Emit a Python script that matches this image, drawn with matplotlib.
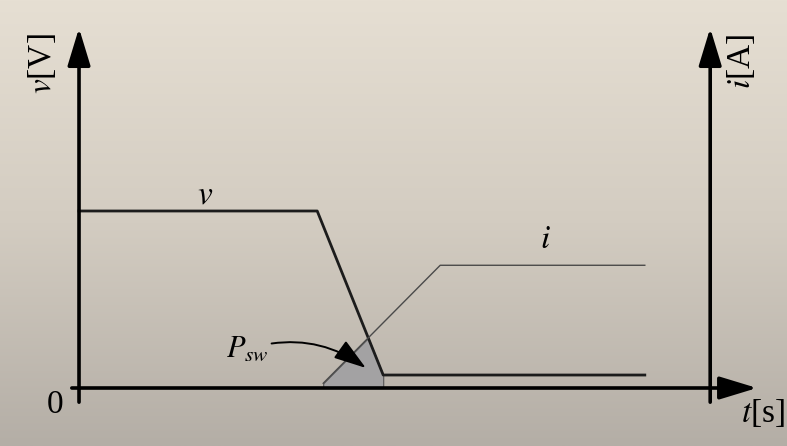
import numpy as np
import matplotlib.pyplot as plt
from matplotlib.colors import LinearSegmentedColormap

plt.rcParams['mathtext.fontset'] = 'stix'
plt.rcParams['font.family'] = ['Liberation Serif', 'DejaVu Serif']

# voltage waveform (turn-on transition)
v_t = [0.0, 3.97, 5.07, 9.43]
v_val = [3.0, 3.0, 0.22, 0.22]

# current waveform
i_t = [4.07, 6.02, 9.43]
i_val = [0.08, 2.08, 2.08]

T_END = 11.3      # time axis arrow tip
V_TOP = 6.10      # voltage axis arrow tip
I_AXIS_T = 10.52  # position of the current axis

fig = plt.figure(figsize=(7.87, 4.46), dpi=100)
ax = fig.add_axes([0, 0, 1, 1])
xlim = (-1.317, 11.8)
ylim = (-0.983, 6.576)
ax.set_xlim(*xlim)
ax.set_ylim(*ylim)
ax.axis('off')

# beige background gradient
cmap = LinearSegmentedColormap.from_list('bg', ['#e6dfd3', '#d3ccc1', '#b4aea6'])
grad = np.linspace(0, 1, 256).reshape(-1, 1)
ax.imshow(grad, cmap=cmap, extent=[xlim[0], xlim[1], ylim[0], ylim[1]],
          aspect='auto', origin='upper', zorder=0)

arrow = dict(arrowstyle='-|>,head_length=2.3,head_width=0.7', color='black',
             lw=2.6, mutation_scale=10, shrinkA=0, shrinkB=0)

# axes with arrows
ax.annotate('', xy=(T_END, 0), xytext=(-0.12, 0), arrowprops=arrow, zorder=5)
ax.annotate('', xy=(0, V_TOP), xytext=(0, -0.24), arrowprops=arrow, zorder=5)
ax.annotate('', xy=(I_AXIS_T, V_TOP), xytext=(I_AXIS_T, -0.24), arrowprops=arrow, zorder=5)

# switching loss area
tt = np.linspace(i_t[0], v_t[2], 200)
overlap = np.minimum(np.interp(tt, v_t, v_val), np.interp(tt, i_t, i_val))
ax.fill_between(tt, 0, overlap, facecolor='#a3a2a3', edgecolor='#555555',
                lw=0.8, zorder=2)

ax.plot(v_t, v_val, color='#1c1c1c', lw=2.0, zorder=3)
ax.plot(i_t, i_val, color='#4a4a4a', lw=1.0, zorder=3)

fs = 24
ax.text(2.1, 3.27, '$v$', fontsize=fs, ha='center', va='center')
ax.text(7.78, 2.51, '$i$', fontsize=fs, ha='center', va='center')
ax.text(-0.4, -0.29, '0', fontsize=fs, ha='center', va='center')
ax.text(11.4, -0.42, '$t$[s]', fontsize=fs, ha='center', va='center')
ax.text(-0.62, 5.5, '$v$[V]', fontsize=fs, ha='center', va='center', rotation=90)
ax.text(11.03, 5.53, '$i$[A]', fontsize=fs, ha='center', va='center', rotation=90)

ax.annotate('$P_{sw}$', xy=(4.78, 0.34), xytext=(2.45, 0.66),
            fontsize=22, ha='left', va='center',
            arrowprops=dict(arrowstyle='-|>,head_length=2.0,head_width=0.65',
                            color='black', lw=1.4, mutation_scale=10,
                            connectionstyle='arc3,rad=-0.25',
                            shrinkA=0, shrinkB=0),
            zorder=6)

fig.savefig('out.png', dpi=100)
